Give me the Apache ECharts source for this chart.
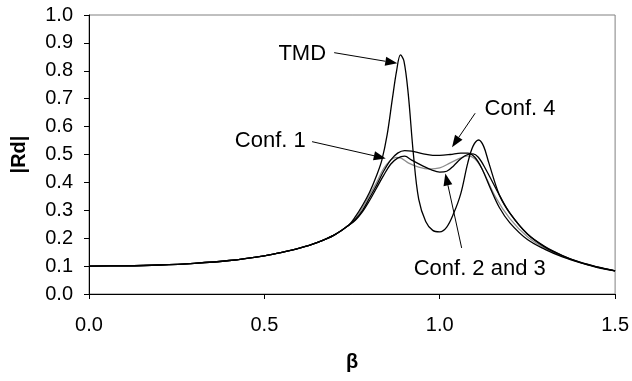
<!DOCTYPE html>
<html>
<head>
<meta charset="utf-8">
<script src="https://cdn.jsdelivr.net/npm/echarts@6/dist/echarts.min.js"></script>
<style>
  html, body { margin: 0; padding: 0; background: #fff; }
  #chart { width: 632px; height: 381px; }
</style>
</head>
<body>
<div id="chart"></div>
<script>
// Frequency ratio and dynamic amplification |Rd|, shared part of all curves
const sharedBeta = [0, 0.1, 0.2, 0.3, 0.4, 0.5, 0.55, 0.6, 0.65, 0.7, 0.74];
const sharedRd   = [0.100, 0.101, 0.104, 0.110, 0.120, 0.137, 0.149, 0.164, 0.184, 0.212, 0.246];

// TMD only
const betaTMD = [0.76, 0.78, 0.80, 0.82, 0.835, 0.85, 0.865, 0.877, 0.888, 0.898, 0.91, 0.925, 0.94, 0.96, 0.98, 1.0, 1.02, 1.04, 1.06, 1.08, 1.095, 1.111, 1.125, 1.14, 1.17, 1.2, 1.25, 1.3, 1.35, 1.4, 1.45, 1.5];
const rdTMD   = [0.278, 0.318, 0.365, 0.425, 0.48, 0.57, 0.70, 0.80, 0.857, 0.835, 0.72, 0.50, 0.34, 0.26, 0.228, 0.223, 0.24, 0.29, 0.36, 0.47, 0.53, 0.552, 0.53, 0.47, 0.355, 0.29, 0.215, 0.17, 0.138, 0.113, 0.096, 0.083];

// Configuration 1
const betaConf1 = [0.76, 0.78, 0.80, 0.82, 0.84, 0.86, 0.875, 0.89, 0.91, 0.94, 0.97, 1.0, 1.03, 1.06, 1.08, 1.10, 1.12, 1.158, 1.2, 1.25, 1.3, 1.35, 1.4, 1.45, 1.5];
const rdConf1   = [0.272, 0.31, 0.355, 0.40, 0.45, 0.48, 0.49, 0.487, 0.47, 0.455, 0.448, 0.452, 0.47, 0.488, 0.495, 0.485, 0.45, 0.35, 0.27, 0.205, 0.164, 0.135, 0.113, 0.096, 0.083];

// Configurations 2 and 3
const betaConf23 = [0.76, 0.78, 0.80, 0.82, 0.84, 0.86, 0.88, 0.90, 0.92, 0.95, 0.98, 1.0, 1.02, 1.04, 1.06, 1.08, 1.095, 1.11, 1.13, 1.172, 1.2, 1.25, 1.3, 1.35, 1.4, 1.45, 1.5];
const rdConf23   = [0.265, 0.295, 0.335, 0.38, 0.425, 0.465, 0.487, 0.494, 0.48, 0.46, 0.443, 0.437, 0.44, 0.46, 0.485, 0.50, 0.502, 0.49, 0.45, 0.35, 0.29, 0.215, 0.168, 0.137, 0.114, 0.097, 0.083];

// Configuration 4
const betaConf4 = [0.76, 0.78, 0.80, 0.82, 0.84, 0.86, 0.88, 0.90, 0.92, 0.95, 0.98, 1.0, 1.03, 1.06, 1.08, 1.10, 1.12, 1.144, 1.17, 1.2, 1.25, 1.3, 1.35, 1.4, 1.45, 1.5];
const rdConf4   = [0.268, 0.30, 0.345, 0.39, 0.44, 0.48, 0.505, 0.514, 0.512, 0.503, 0.497, 0.497, 0.500, 0.505, 0.505, 0.49, 0.45, 0.38, 0.31, 0.255, 0.195, 0.16, 0.133, 0.112, 0.095, 0.083];

// Annotation labels: text position and arrow (start -> tip) in data units
const labelTexts = ['TMD', 'Conf. 1', 'Conf. 4', 'Conf. 2 and 3'];
const labelPos   = [[0.608, 0.862], [0.517, 0.548], [1.229, 0.665], [1.114, 0.090]];
const arrowFrom  = [[0.699, 0.865], [0.636, 0.546], [1.101, 0.648], [1.0625, 0.165]];
const arrowTo    = [[0.879, 0.827], [0.846, 0.486], [1.035, 0.526], [1.016, 0.432]];

const FONT = '"Liberation Sans", Arial, sans-serif';

function pairs(bx, ry) {
  const out = [];
  sharedBeta.forEach((b, i) => out.push([b, sharedRd[i]]));
  bx.forEach((b, i) => out.push([b, ry[i]]));
  return out;
}

function lineSeries(name, data, color, width) {
  return {
    name, type: 'line', data, smooth: 0.35, showSymbol: false,
    lineStyle: { color, width }, emphasis: { disabled: true }, z: 3
  };
}

const chart = echarts.init(document.getElementById('chart'), null, { renderer: 'canvas' });

chart.setOption({
  animation: false,
  backgroundColor: '#ffffff',
  grid: { left: 89, right: 15, top: 15, bottom: 87, show: true, borderColor: '#808080', borderWidth: 1 },
  xAxis: {
    type: 'value', min: 0, max: 1.5, interval: 0.5,
    name: 'β', nameLocation: 'middle', nameGap: 58,
    nameTextStyle: { fontFamily: FONT, fontSize: 20, fontWeight: 'bold', color: '#000' },
    axisLine: { onZero: false, lineStyle: { color: '#000', width: 1 } },
    axisTick: { show: true, inside: false, length: 5, lineStyle: { color: '#000' } },
    axisLabel: { fontFamily: FONT, fontSize: 20, color: '#000', margin: 21, formatter: v => v.toFixed(1) },
    splitLine: { show: false }
  },
  yAxis: {
    type: 'value', min: 0, max: 1, interval: 0.1,
    name: '|Rd|', nameLocation: 'middle', nameGap: 60, nameRotate: 90,
    nameTextStyle: { fontFamily: FONT, fontSize: 20, fontWeight: 'bold', color: '#000' },
    axisLine: { onZero: false, lineStyle: { color: '#000', width: 1 } },
    axisTick: { show: true, inside: false, length: 5, lineStyle: { color: '#000' } },
    axisLabel: { fontFamily: FONT, fontSize: 20, color: '#000', margin: 16, formatter: v => v.toFixed(1) },
    splitLine: { show: false }
  },
  series: [
    lineSeries('Conf. 1', pairs(betaConf1, rdConf1), '#8c8c8c', 1.2),
    lineSeries('Conf. 2 and 3', pairs(betaConf23, rdConf23), '#000', 1.3),
    lineSeries('Conf. 4', pairs(betaConf4, rdConf4), '#000', 1.3),
    lineSeries('TMD', pairs(betaTMD, rdTMD), '#000', 1.3)
  ]
});

// Arrows and their labels, placed through the chart's own coordinate system
function drawAnnotations() {
  const els = [];
  labelTexts.forEach((t, i) => {
    const p = chart.convertToPixel({ gridIndex: 0 }, labelPos[i]);
    const a = chart.convertToPixel({ gridIndex: 0 }, arrowFrom[i]);
    const b = chart.convertToPixel({ gridIndex: 0 }, arrowTo[i]);
    els.push({
      type: 'text', x: p[0], y: p[1], z: 10,
      style: { text: t, font: '22px ' + FONT, fill: '#000', align: 'center', verticalAlign: 'middle' }
    });
    const dx = b[0] - a[0], dy = b[1] - a[1];
    const len = Math.hypot(dx, dy);
    const ux = dx / len, uy = dy / len;
    const headL = 12, headW = 4.5;
    const bx = b[0] - ux * headL, by = b[1] - uy * headL;
    els.push({
      type: 'line', z: 10,
      shape: { x1: a[0], y1: a[1], x2: bx, y2: by },
      style: { stroke: '#000', lineWidth: 1 }
    });
    els.push({
      type: 'polygon', z: 10,
      shape: { points: [[b[0], b[1]], [bx - uy * headW, by + ux * headW], [bx + uy * headW, by - ux * headW]] },
      style: { fill: '#000' }
    });
  });
  chart.setOption({ graphic: { elements: els } });
}
drawAnnotations();
</script>
</body>
</html>
